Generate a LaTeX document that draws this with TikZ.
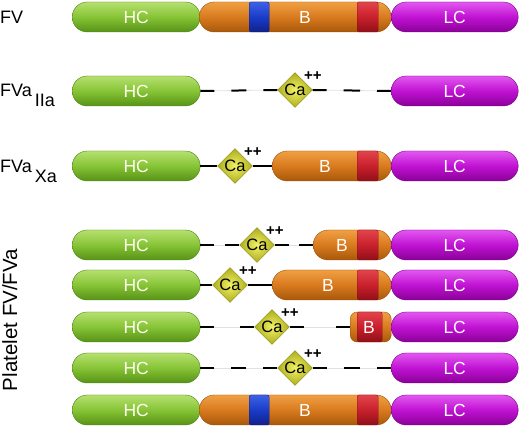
\documentclass[tikz,border=0pt]{standalone}
\usepackage{fontspec}
\setmainfont{Liberation Sans}
\usepackage{tikz}
\usetikzlibrary{shapes.geometric,calc}

\definecolor{hcTop}{HTML}{B6E070}
\definecolor{hcMid}{HTML}{86C436}
\definecolor{hcBot}{HTML}{579216}
\definecolor{hcEdge}{HTML}{4C8212}
\definecolor{bTop}{HTML}{F0A044}
\definecolor{bMid}{HTML}{D87A1E}
\definecolor{bBot}{HTML}{A8580A}
\definecolor{bEdge}{HTML}{9A5008}
\definecolor{lcTop}{HTML}{E258F0}
\definecolor{lcMid}{HTML}{C012D2}
\definecolor{lcBot}{HTML}{8A0098}
\definecolor{lcEdge}{HTML}{7A0088}
\definecolor{blTop}{HTML}{3C62E6}
\definecolor{blMid}{HTML}{1A3CC8}
\definecolor{blBot}{HTML}{10208A}
\definecolor{rdTop}{HTML}{E2444C}
\definecolor{rdMid}{HTML}{C8202C}
\definecolor{rdBot}{HTML}{901018}
\definecolor{caIn}{HTML}{F2F266}
\definecolor{caOut}{HTML}{ACAC1E}
\definecolor{caEdge}{HTML}{88880E}

\begin{document}
\begin{tikzpicture}[x=1pt, y=-1pt,
seg/.style={rectangle, rounded corners=15pt, minimum height=30pt, inner sep=0pt, anchor=west, font=\fontsize{17.5}{20}\selectfont},
hc/.style={seg, minimum width=128pt, top color=hcTop, bottom color=hcBot, middle color=hcMid, draw=hcEdge, text=white!94!yellow},
lc/.style={seg, minimum width=127pt, top color=lcTop, bottom color=lcBot, middle color=lcMid, draw=lcEdge, text=white},
bseg/.style={seg, top color=bTop, bottom color=bBot, middle color=bMid, draw=bEdge},
band/.style={rectangle, rounded corners=2pt, minimum height=30pt, inner sep=0pt, anchor=west},
blue band/.style={band, minimum width=20pt, top color=blTop, bottom color=blBot, middle color=blMid, draw=blBot},
red band/.style={band, minimum width=21pt, top color=rdTop, bottom color=rdBot, middle color=rdMid, draw=rdBot},
btxt/.style={inner sep=0pt, text=white, font=\fontsize{17.5}{20}\selectfont},
ca/.style={diamond, aspect=1, minimum size=35pt, inner sep=0pt, inner color=caIn, outer color=caOut, draw=caEdge, font=\fontsize{16.5}{19}\selectfont},
lbl/.style={inner sep=0pt, font=\fontsize{18}{21}\selectfont},
pp/.style={inner sep=0pt, font=\fontsize{15}{17}\selectfont\bfseries},
dlink/.style={line width=2pt, dash pattern=on 14pt off 17pt, preaction={draw=black!12, line width=0.8pt, solid},
  to path={(\tikztostart) -- ($(\tikztostart)!.5!(\tikztotarget)$) (\tikztotarget) -- ($(\tikztostart)!.5!(\tikztotarget)$)}}
]
\useasboundingbox (0,0) rectangle (520,427);

\node[lbl, anchor=west] (fv) at (0,17) {FV};
\node[lbl, anchor=base west] (fva) at (0,97) {FVa\,\raisebox{-10pt}{IIa}};
\node[lbl, anchor=base west] (fvx) at (0,173) {FVa\,\raisebox{-10pt}{Xa}};
\node[lbl, font=\fontsize{20.5}{23}\selectfont, rotate=90, anchor=base] (plt) at (17,320) {Platelet FV/FVa};

\node[hc] (hc1) at (72,17) {HC};
\node[bseg, minimum width=192pt] (b1) at (199,17) {};
\node[blue band] (bl1) at (249,17) {};
\node[red band] (rd1) at (357,17) {};
\node[btxt] (bt1) at (305,17) {B};
\node[lc] (lc1) at (391,17) {LC};

\node[hc] (hc2) at (72,91) {HC};
\node[ca, label={[pp, anchor=south west, name=pp2]45:++}] (ca2) at (295,90) {Ca};
\node[lc] (lc2) at (391,91) {LC};

\node[hc] (hc3) at (72,166) {HC};
\node[ca, label={[pp, anchor=south west, name=pp3]45:++}] (ca3) at (235,166) {Ca};
\node[bseg, minimum width=119pt] (b3) at (272,166) {};
\node[red band] (rd3) at (357,166) {};
\node[btxt] (bt3) at (325,166) {B};
\node[lc] (lc3) at (391,166) {LC};

\node[hc] (hc4) at (72,245) {HC};
\node[ca, label={[pp, anchor=south west, name=pp4]45:++}] (ca4) at (257,245) {Ca};
\node[bseg, minimum width=78pt] (b4) at (313,245) {};
\node[red band] (rd4) at (357,245) {};
\node[btxt] (bt4) at (342,245) {B};
\node[lc] (lc4) at (391,245) {LC};

\node[hc] (hc5) at (72,285) {HC};
\node[ca, label={[pp, anchor=south west, name=pp5]45:++}] (ca5) at (230,285) {Ca};
\node[bseg, minimum width=119pt] (b5) at (272,285) {};
\node[red band] (rd5) at (357,285) {};
\node[btxt] (bt5) at (328,285) {B};
\node[lc] (lc5) at (391,285) {LC};

\node[hc] (hc6) at (72,327) {HC};
\node[ca, label={[pp, anchor=south west, name=pp6]45:++}] (ca6) at (272,327) {Ca};
\node[bseg, minimum width=41pt, rounded corners=7pt] (b6) at (350,327) {};
\node[red band, minimum width=25pt] (rd6) at (357,327) {};
\node[btxt] (bt6) at (369,327) {B};
\node[lc] (lc6) at (391,327) {LC};

\node[hc] (hc7) at (72,368) {HC};
\node[ca, label={[pp, anchor=south west, name=pp7]45:++}] (ca7) at (295,368) {Ca};
\node[lc] (lc7) at (391,368) {LC};

\node[hc] (hc8) at (72,410) {HC};
\node[bseg, minimum width=192pt] (b8) at (199,410) {};
\node[blue band] (bl8) at (249,410) {};
\node[red band] (rd8) at (357,410) {};
\node[btxt] (bt8) at (305,410) {B};
\node[lc] (lc8) at (391,410) {LC};

\draw[dlink] (hc2.east) to (ca2.west);
\draw[dlink] (ca2.east) to (lc2.west);
\draw[dlink] (hc3.east) to (ca3.west);
\draw[dlink] (ca3.east) to (b3.west);
\draw[dlink] (hc4.east) to (ca4.west);
\draw[dlink] (ca4.east) to (b4.west);
\draw[dlink] (hc5.east) to (ca5.west);
\draw[dlink] (ca5.east) to (b5.west);
\draw[dlink] (hc6.east) to (ca6.west);
\draw[dlink] (ca6.east) to (b6.west);
\draw[dlink] (hc7.east) to (ca7.west);
\draw[dlink] (ca7.east) to (lc7.west);
\end{tikzpicture}
\end{document}
